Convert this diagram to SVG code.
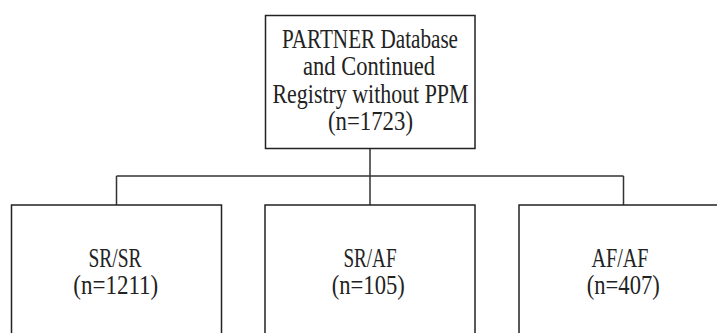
<svg xmlns="http://www.w3.org/2000/svg" width="717" height="333" viewBox="0 0 717 333">
<style>
.box{fill:#fff;stroke:#222;stroke-width:1.5}
.conn{fill:none;stroke:#333;stroke-width:1.5}
text{font-family:"Liberation Serif","Times New Roman",serif;font-size:27px;fill:#222;text-anchor:middle}
</style>
<rect width="717" height="333" fill="#fff"/>
<g id="connectors">
<path class="conn" d="M370 148.5V176M116.5 176H623.5M116.5 176V205M370 176V205M623.5 176V205"/>
</g>
<g id="root">
<rect class="box" x="265.5" y="15.5" width="209.5" height="133"/>
<text x="370" y="47.5" textLength="176" lengthAdjust="spacingAndGlyphs">PARTNER Database</text>
<text x="369" y="75" textLength="132" lengthAdjust="spacingAndGlyphs">and Continued</text>
<text x="370.5" y="102.5" textLength="196" lengthAdjust="spacingAndGlyphs">Registry without PPM</text>
<text x="370.5" y="130" textLength="85" lengthAdjust="spacingAndGlyphs">(n=1723)</text>
</g>
<g id="srsr">
<rect class="box" x="11.5" y="205" width="210" height="140"/>
<text x="115" y="266.5" textLength="53" lengthAdjust="spacingAndGlyphs">SR/SR</text>
<text x="115.8" y="294" textLength="85" lengthAdjust="spacingAndGlyphs">(n=1211)</text>
</g>
<g id="sraf">
<rect class="box" x="265" y="205" width="210" height="140"/>
<text x="370" y="266.5" textLength="53" lengthAdjust="spacingAndGlyphs">SR/AF</text>
<text x="368.3" y="294" textLength="73" lengthAdjust="spacingAndGlyphs">(n=105)</text>
</g>
<g id="afaf">
<rect class="box" x="519" y="205" width="210" height="140"/>
<text x="620" y="266.5" textLength="57" lengthAdjust="spacingAndGlyphs">AF/AF</text>
<text x="623.3" y="294" textLength="73" lengthAdjust="spacingAndGlyphs">(n=407)</text>
</g>
</svg>
